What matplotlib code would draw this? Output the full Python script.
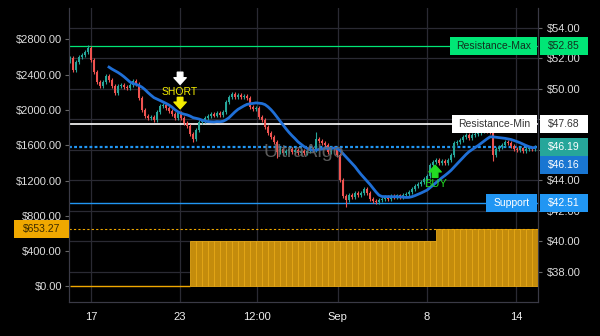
import numpy as np
import pandas as pd
import matplotlib
matplotlib.use('Agg')
import matplotlib.pyplot as plt
from matplotlib.patches import Rectangle
from matplotlib import transforms

plt.rcParams['font.family'] = ['Liberation Sans', 'DejaVu Sans']

# --- data ---
closes = [
    52.03, 51.25, 51.77, 52.10, 52.23, 52.43, 52.70, 51.90, 51.11, 50.46,
    50.20, 50.46, 50.85, 50.59, 50.20, 49.74, 50.20, 50.26, 50.12, 50.07,
    50.26, 50.52, 50.33, 49.41, 48.62, 48.23, 48.10, 48.18, 47.97, 48.49,
    48.89, 48.95, 48.75, 48.56, 48.36, 48.10, 48.43, 48.10, 47.77, 47.57,
    47.05, 46.72, 47.31, 47.84, 47.90, 48.10, 48.22, 48.38, 48.26, 48.42,
    48.30, 48.49, 49.15, 49.48, 49.67, 49.48, 49.61, 49.45, 49.52, 49.41,
    48.82, 48.69, 48.75, 48.16, 47.97, 47.51, 47.11, 46.85, 46.52, 45.87,
    46.05, 45.80, 45.95, 46.08, 45.85, 45.98, 45.78, 45.96, 45.82, 45.90,
    46.05, 46.00, 46.72, 46.60, 46.46, 46.33, 45.87, 46.13, 46.05, 45.67,
    44.03, 42.98, 42.72, 43.05, 42.92, 43.18, 43.05, 43.18, 43.44, 43.18,
    42.79, 42.66, 42.59, 42.72, 42.80, 42.95, 42.78, 42.97, 42.88, 43.02,
    42.90, 43.05, 43.11, 43.25, 43.44, 43.64, 43.77, 43.90, 44.10, 44.30,
    45.02, 45.21, 45.34, 45.15, 45.28, 45.12, 45.34, 45.67, 46.46, 46.52,
    46.66, 46.85, 46.98, 46.80, 46.98, 47.05, 47.11, 47.25, 47.31, 47.22,
    47.18, 45.67, 46.07, 46.20, 46.33, 46.52, 46.46, 46.26, 46.07, 46.00,
    46.10, 45.95, 46.08, 46.13, 46.05, 46.19,
]
first_open = 51.85
spike_high = {6: 52.87, 82: 47.15, 137: 47.62}
spike_low = {41: 46.55, 92: 42.26, 141: 45.30, 69: 45.45}

equity = [0.0] * 40 + [515.0] * 82 + [653.27] * 34

levels = {'Resistance-Max': 52.85, 'Resistance-Min': 47.68, 'Support': 42.51}
last_price = 46.19
ma_last = 46.16
equity_last = 653.27

tick_pos = [7, 36.7, 62.3, 89.3, 119, 148.7]
tick_labels = ['17', '23', '12:00', 'Sep', '8', '14']
hidden_price_ticks = [46, 48]   # fully covered by the tags in the reference

short_idx, buy_idx = 36.7, 121.7

# --- figure ---
fig = plt.figure(figsize=(6, 3.36), dpi=100, facecolor='black')
ax = fig.add_axes([69 / 600, 1 - 302 / 336, 469 / 600, 294 / 336])
ax.set_facecolor('black')
ax2 = ax.twinx()
ax.yaxis.tick_right()
ax2.yaxis.tick_left()

c = np.array(closes)
o = np.array([first_open] + closes[:-1])
x = np.arange(len(c))
hi = np.maximum(o, c) + 0.12
lo = np.minimum(o, c) - 0.12
for k, v in spike_high.items():
    hi[k] = v
for k, v in spike_low.items():
    lo[k] = v
cols = np.where(c >= o, '#26a69a', '#ef5350')

ax.vlines(x, lo, hi, colors=cols, lw=0.8, zorder=3)
ax.bar(x, np.maximum(np.abs(c - o), 0.05), bottom=np.minimum(o, c), width=0.8,
       color=cols, linewidth=0, zorder=4)

ma = pd.Series(closes).rolling(14).mean()
ax.plot(x, ma, color='#1f6fd6', lw=2, zorder=5)

ax.axhline(levels['Resistance-Max'], color='#00e676', lw=0.9, zorder=2)
ax.axhline(levels['Resistance-Min'], color='white', lw=1.2, zorder=2)
ax.axhline(levels['Support'], color='#2196f3', lw=1.0, zorder=2)
ax.axhline(last_price, color='#2196f3', lw=1.6, ls=(0, (1.3, 1.0)), zorder=2)

# equity area on the left scale
eq = np.array(equity)
start = int(np.argmax(eq > 0))
bx = x[start::2]
ax2.bar(bx, eq[start::2], width=2, align='edge', color='#c48c0c',
        edgecolor='#e6a817', lw=0.6, zorder=2)
ax2.hlines(0, x[0], start, color='#f0a800', lw=1, zorder=3)
ax2.axhline(equity_last, color='#f0a800', lw=0.8, ls=(0, (2, 2)), zorder=2)

# axes ranges and ticks
ax.set_xlim(-0.33, 156)
ax.set_ylim(36.03, 55.31)
ax2.set_ylim(-176, 3157)
ax.set_yticks(np.arange(38, 55, 2))
ax.yaxis.set_major_formatter(lambda v, p: '' if round(v) in hidden_price_ticks else f'${v:.2f}')
ax2.set_yticks(np.arange(0, 2801, 400))
ax2.yaxis.set_major_formatter(lambda v, p: f'${v:.2f}')
ax.set_xticks(tick_pos, tick_labels)

ax.set_axisbelow(True)
ax.grid(True, color='#2a2a33', lw=0.9)
for a in (ax, ax2):
    for s in a.spines.values():
        s.set_color('#3a3a46')
    a.spines['top'].set_visible(False)
ax.tick_params(axis='y', color='#666666', labelcolor='#dcdcdc', labelsize=8,
               length=3, pad=3.5)
ax2.tick_params(axis='y', color='#666666', labelcolor='#dcdcdc', labelsize=8,
                length=3, pad=2)
ax.tick_params(axis='x', length=0, labelcolor='#f0f0f0', labelsize=8, pad=7)

# watermark
ax.text(0.5, 0.51, 'UltraAlgo', transform=ax.transAxes, ha='center', va='center',
        fontsize=14, color='#6a6a6a', alpha=0.85, zorder=6)

# signals
def arrow(y0, y1, xi, color):
    ax.annotate('', xy=(xi, y1), xytext=(xi, y0),
                arrowprops=dict(arrowstyle='simple,head_length=0.6,head_width=1.1,tail_width=0.5',
                                color=color, mutation_scale=8, shrinkA=0, shrinkB=0),
                zorder=7)

arrow(51.1, 50.3, short_idx, 'white')
ax.text(short_idx, 49.80, 'SHORT', ha='center', va='center', color='#f5ee00',
        fontsize=7.5, zorder=7)
arrow(49.45, 48.7, short_idx, '#f5ee00')
arrow(44.2, 45.0, buy_idx, '#22dd22')
ax.text(buy_idx, 43.75, 'BUY', ha='center', va='center', color='#22dd22',
        fontsize=8, zorder=7)

# tags on the axes
def tag(a, x0, x1, yc, h, txt, fc, tc):
    tr = transforms.blended_transform_factory(a.transAxes, a.transData)
    a.add_patch(Rectangle((x0, yc - h / 2), x1 - x0, h, transform=tr, fc=fc,
                          ec='none', clip_on=False, zorder=10))
    a.text((x0 + x1) / 2, yc, txt, transform=tr, ha='center', va='center',
           color=tc, fontsize=7.5, zorder=11, clip_on=False)

ph = 18 / 15.25
vx0, vx1 = 1.004, 1.107
tag(ax, 0.812, 0.998, levels['Resistance-Max'], ph, 'Resistance-Max', '#00e676', '#12301f')
tag(ax, vx0, vx1, levels['Resistance-Max'], ph, f"${levels['Resistance-Max']:.2f}", '#00e676', '#12301f')
tag(ax, 0.817, 0.998, levels['Resistance-Min'], ph, 'Resistance-Min', 'white', '#333333')
tag(ax, vx0, vx1, levels['Resistance-Min'], ph, f"${levels['Resistance-Min']:.2f}", 'white', '#333333')
tag(ax, vx0, vx1, last_price, ph, f'${last_price:.2f}', '#26a69a', 'white')
tag(ax, vx0, vx1, last_price - ph, ph, f'${ma_last:.2f}', '#1976d2', 'white')
tag(ax, 0.889, 0.998, levels['Support'], ph, 'Support', '#2196f3', 'white')
tag(ax, vx0, vx1, levels['Support'], ph, f"${levels['Support']:.2f}", '#2196f3', 'white')
tag(ax2, -0.117, 0.0, equity_last, 18 / 0.08821, f'${equity_last:.2f}', '#f0a800', '#3a2a00')

fig.savefig('out.png', dpi=100, facecolor='black')
